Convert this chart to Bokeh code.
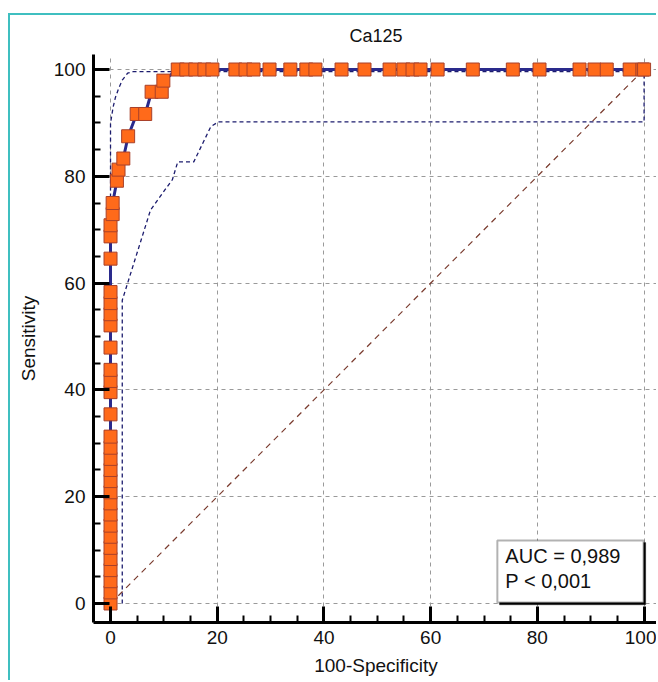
from bokeh.plotting import figure
from bokeh.models import Range1d, SingleIntervalTicker, BoxAnnotation, Label
from bokeh.embed import file_html
from bokeh.resources import INLINE

# ROC curve points for Ca125 (100-Specificity, Sensitivity)
roc_fpr = [0, 0, 0, 0, 0, 0, 0, 0, 0, 0, 0, 0, 0, 0, 0, 0,
           0, 0, 0, 0, 0, 0, 0, 0, 0, 0, 0, 0, 0.4, 0.4,
           1.2, 1.5, 2.4, 3.3, 4.9, 6.5, 7.7, 9.6, 9.9,
           12.6, 14.2, 15.9, 17.6, 19.1, 23.4, 25.3, 26.8, 29.8, 33.7,
           36.7, 38.4, 43.3, 47.6, 52.3, 54.9, 56.6, 58.1, 61.3, 67.9,
           75.4, 80.4, 87.9, 90.7, 93.0, 97.3, 99.7, 100]
roc_sens = [0, 2.08, 4.17, 6.25, 8.33, 10.42, 12.5, 14.58, 16.67, 18.75,
            20.83, 22.92, 25, 27.08, 29.17, 31.25,
            35.42, 39.58, 41.67, 43.75, 47.92, 52.08, 54.17, 56.25, 58.33,
            64.58, 68.75, 70.83, 72.92, 75,
            79.17, 81.25, 83.33, 87.5, 91.67, 91.67, 95.83, 95.83, 97.92,
            100, 100, 100, 100, 100, 100, 100, 100, 100, 100,
            100, 100, 100, 100, 100, 100, 100, 100, 100, 100,
            100, 100, 100, 100, 100, 100, 100, 100]

# 95% confidence bounds of the curve
upper_x = [0, 0, 0.5, 0.9, 1.5, 2.2, 3.2, 4.2, 100]
upper_y = [0, 90, 93, 94.7, 96.4, 98.0, 99.3, 99.6, 99.6]
lower_x = [2.2, 2.2, 2.8, 7.5, 11.6, 12.6, 15.6, 18.8, 20.2, 100, 100]
lower_y = [0, 56.8, 58.7, 73.7, 79.4, 82.7, 82.7, 89.3, 90.2, 90.2, 100]

# chance line
diag_x = [0, 100]
diag_y = [0, 100]

auc_text = "AUC = 0,989"
p_text = "P < 0,001"

FONT = "Liberation Sans"

p = figure(width=648, height=667,
           x_range=Range1d(-3.19, 102.7), y_range=Range1d(-3.56, 102.81),
           output_backend="svg", toolbar_location=None,
           min_border_left=83, min_border_right=0,
           min_border_top=38, min_border_bottom=60,
           title="Ca125")
p.styles = {"border-top": "2px solid #3fbfc0", "border-left": "2px solid #3fbfc0"}
p.margin = (13, 0, 0, 8)

p.title.align = "center"
p.title.standoff = 17
p.title.text_line_height = 0.7
p.title.text_font = FONT
p.title.text_font_size = "18px"
p.title.text_font_style = "normal"
p.title.text_color = "#111111"
p.outline_line_color = None
p.background_fill_color = "white"
p.border_fill_color = "white"

for ax in (p.xaxis, p.yaxis):
    ax.ticker = SingleIntervalTicker(interval=20, num_minor_ticks=4)
    ax.axis_line_width = 3
    ax.axis_line_color = "black"
    ax.major_tick_line_width = 3
    ax.minor_tick_line_width = 2
    ax.major_tick_in = 16
    ax.major_tick_out = 0
    ax.minor_tick_in = 7
    ax.minor_tick_out = 0
    ax.major_label_standoff = 8
    ax.major_label_text_font = FONT
    ax.major_label_text_font_size = "19px"
    ax.major_label_text_color = "#111111"
    ax.axis_label_text_font = FONT
    ax.axis_label_text_font_size = "19px"
    ax.axis_label_text_font_style = "normal"
    ax.axis_label_text_color = "#111111"

p.xaxis.axis_label = "100-Specificity"
p.yaxis.axis_label = "Sensitivity"
p.xaxis.axis_label_standoff = 8
p.yaxis.axis_label_standoff = 12

p.grid.grid_line_color = "#9a9a9a"
p.grid.grid_line_dash = "4 4"
p.grid.grid_line_width = 1

# confidence bounds
p.line(upper_x, upper_y, line_color="#1c1c6e", line_width=1.3, line_dash="4 3")
p.line(lower_x, lower_y, line_color="#1c1c6e", line_width=1.3, line_dash="4 3")

# chance diagonal
p.line(diag_x, diag_y, line_color="#7a3b2e", line_width=1.2, line_dash="6 5")

# ROC curve with criterion markers
p.line(roc_fpr, roc_sens, line_color="#2a2a8c", line_width=3)
p.scatter(roc_fpr, roc_sens, marker="square", size=13,
          fill_color="#ff6a1a", line_color="#a8402a", line_width=1)

# AUC box with a slight shadow
p.add_layout(BoxAnnotation(left=72.9, right=100.3, bottom=-0.25, top=11.4,
                           fill_color="black", fill_alpha=1, line_color="black"))
p.add_layout(BoxAnnotation(left=72.5, right=99.9, bottom=0.2, top=11.8,
                           fill_color="white", fill_alpha=1,
                           line_color="black", line_width=2))
p.add_layout(Label(x=74.0, y=8.8, text=auc_text, text_baseline="middle",
                   text_font=FONT, text_font_size="20px", text_color="#111111"))
p.add_layout(Label(x=74.0, y=4.3, text=p_text, text_baseline="middle",
                   text_font=FONT, text_font_size="20px", text_color="#111111"))

open("out.html", "w").write(file_html(p, INLINE))
